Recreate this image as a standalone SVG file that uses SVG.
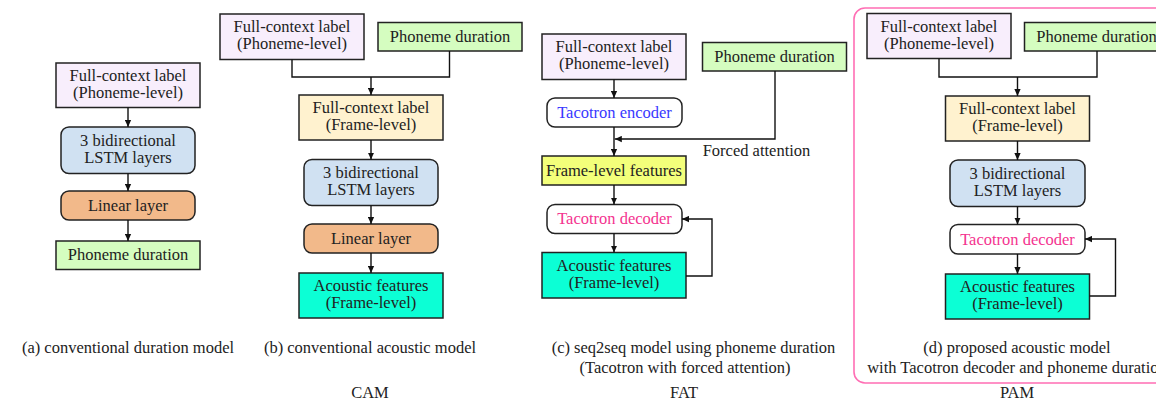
<svg xmlns="http://www.w3.org/2000/svg" width="1156" height="404" viewBox="0 0 1156 404" font-family="'Liberation Serif', 'Times New Roman', serif">
<defs>
<style>
text{font-family:"Liberation Serif","Times New Roman",serif;font-size:16.5px;fill:#222;text-anchor:middle}
.box{stroke:#222;stroke-width:1.5}
.fclp{fill:#f8eefc}
.pd{fill:#d5fdc0}
.fclf{fill:#fff2cf}
.lstm{fill:#d0e1f2}
.lin{fill:#f2b98a}
.ac{fill:#0cffd5}
.flf{fill:#f3ff7a}
.taco{fill:#fff}
.enc{fill:#3838ff}
.dec{fill:#f4338f}
.conn{fill:none;stroke:#111;stroke-width:1.4}
.arr{marker-end:url(#ah)}
</style>
<marker id="ah" viewBox="0 0 10 10" refX="10" refY="5" markerWidth="7" markerHeight="7" markerUnits="userSpaceOnUse" orient="auto">
<path d="M0,0.5 L10,5 L0,9.5 Z" fill="#111"/>
</marker>
</defs>
<rect x="854" y="8" width="340" height="375" rx="11" fill="none" stroke="#ff6eb4" stroke-width="1.6"/>
<g id="a-fcl"><rect class="box fclp" x="56" y="63" width="144" height="44.5"/><text x="128" y="81">Full-context label</text><text x="128" y="98">(Phoneme-level)</text></g>
<g id="a-lstm"><rect class="box lstm" x="61" y="127" width="134" height="46.5" rx="8"/><text x="128" y="146">3 bidirectional</text><text x="128" y="163">LSTM layers</text></g>
<g id="a-lin"><rect class="box lin" x="61" y="191" width="134" height="29" rx="8"/><text x="128" y="210.5">Linear layer</text></g>
<g id="a-pd"><rect class="box pd" x="56" y="241" width="144" height="28.5"/><text x="128" y="260">Phoneme duration</text></g>
<g id="b-fcl"><rect class="box fclp" x="220" y="14" width="144" height="45.5"/><text x="292" y="32">Full-context label</text><text x="292" y="49">(Phoneme-level)</text></g>
<g id="b-pd"><rect class="box pd" x="378" y="22.5" width="144" height="28.5"/><text x="450" y="42">Phoneme duration</text></g>
<g id="b-fclf"><rect class="box fclf" x="299" y="95" width="144" height="45"/><text x="371" y="113">Full-context label</text><text x="371" y="130">(Frame-level)</text></g>
<g id="b-lstm"><rect class="box lstm" x="304" y="159.5" width="134" height="46" rx="8"/><text x="371" y="178">3 bidirectional</text><text x="371" y="195">LSTM layers</text></g>
<g id="b-lin"><rect class="box lin" x="304" y="224" width="134" height="29" rx="8"/><text x="371" y="243.5">Linear layer</text></g>
<g id="b-ac"><rect class="box ac" x="299" y="273" width="144" height="45"/><text x="371" y="291">Acoustic features</text><text x="371" y="308">(Frame-level)</text></g>
<g id="c-fcl"><rect class="box fclp" x="542" y="34" width="144" height="45.5"/><text x="614" y="52">Full-context label</text><text x="614" y="69">(Phoneme-level)</text></g>
<g id="c-pd"><rect class="box pd" x="702.5" y="42.5" width="144" height="28.5"/><text x="774.5" y="62">Phoneme duration</text></g>
<g id="c-enc"><rect class="box taco" x="547" y="98" width="135" height="29" rx="8"/><text class="enc" x="614.5" y="117.5">Tacotron encoder</text></g>
<g id="c-flf"><rect class="box flf" x="542" y="156" width="144" height="29"/><text x="614" y="175.5">Frame-level features</text></g>
<g id="c-dec"><rect class="box taco" x="547" y="204.5" width="135" height="29" rx="8"/><text class="dec" x="614.5" y="224">Tacotron decoder</text></g>
<g id="c-ac"><rect class="box ac" x="542" y="252.5" width="144" height="45.5"/><text x="614" y="271">Acoustic features</text><text x="614" y="288">(Frame-level)</text></g>
<g id="d-fcl"><rect class="box fclp" x="867" y="13.5" width="144" height="45"/><text x="939" y="31.5">Full-context label</text><text x="939" y="48.5">(Phoneme-level)</text></g>
<g id="d-pd"><rect class="box pd" x="1024.5" y="22.5" width="144" height="28.5"/><text x="1096.5" y="42">Phoneme duration</text></g>
<g id="d-fclf"><rect class="box fclf" x="945.5" y="96" width="144" height="45"/><text x="1017.5" y="114">Full-context label</text><text x="1017.5" y="131">(Frame-level)</text></g>
<g id="d-lstm"><rect class="box lstm" x="950" y="160" width="135" height="46.5" rx="8"/><text x="1017.5" y="179">3 bidirectional</text><text x="1017.5" y="196">LSTM layers</text></g>
<g id="d-dec"><rect class="box taco" x="950" y="224.5" width="135" height="29.5" rx="8"/><text class="dec" x="1017.5" y="244.5">Tacotron decoder</text></g>
<g id="d-ac"><rect class="box ac" x="945.5" y="274" width="144" height="45"/><text x="1017.5" y="292">Acoustic features</text><text x="1017.5" y="309">(Frame-level)</text></g>
<g id="connectors">
<path class="conn arr" d="M128,107.5 V127"/>
<path class="conn arr" d="M128,173.5 V191"/>
<path class="conn arr" d="M128,220 V241"/>
<path class="conn" d="M292,59.5 V77 H449.5 V51"/>
<path class="conn arr" d="M371,77 V95"/>
<path class="conn arr" d="M371,140 V159.5"/>
<path class="conn arr" d="M371,205.5 V224"/>
<path class="conn arr" d="M371,253 V273"/>
<path class="conn arr" d="M614,79.5 V98"/>
<path class="conn arr" d="M614,127 V156"/>
<path class="conn arr" d="M775,71 V139 H614.8"/>
<path class="conn arr" d="M614,185 V204.5"/>
<path class="conn arr" d="M614,233.5 V252.5"/>
<path class="conn arr" d="M686,276 H712 V219 H682"/>
<path class="conn" d="M939,58.5 V77 H1097 V51"/>
<path class="conn arr" d="M1017.5,77 V96"/>
<path class="conn arr" d="M1017.5,141 V160"/>
<path class="conn arr" d="M1017.5,206.5 V224.5"/>
<path class="conn arr" d="M1017.5,254 V274"/>
<path class="conn arr" d="M1089.5,296 H1115.5 V239 H1085"/>
</g>
<text x="756.5" y="155.5">Forced attention</text>
<text x="128" y="353">(a) conventional duration model</text>
<text x="370" y="353">(b) conventional acoustic model</text>
<text x="693.5" y="353">(c) seq2seq model using phoneme duration</text>
<text x="685" y="373">(Tacotron with forced attention)</text>
<text x="1017" y="353">(d) proposed acoustic model</text>
<text x="1017" y="373">with Tacotron decoder and phoneme duration</text>
<text x="370" y="398">CAM</text>
<text x="684" y="398">FAT</text>
<text x="1017" y="398">PAM</text>
</svg>
